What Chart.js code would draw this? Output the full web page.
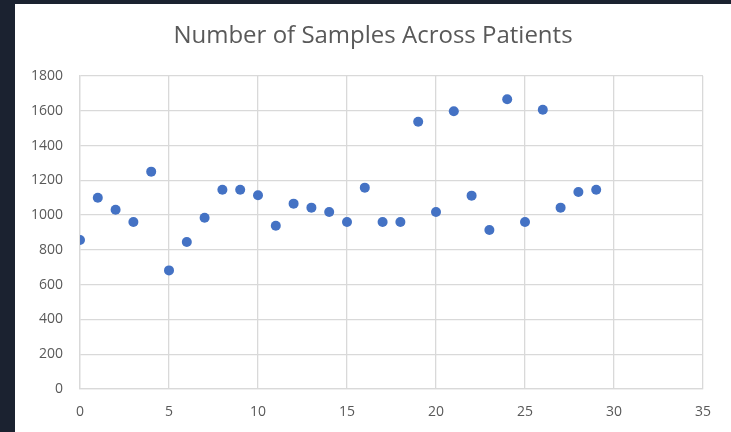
<!DOCTYPE html>
<html lang="en">
<head>
  <meta charset="UTF-8" />
  <title>Number of Samples Across Patients</title>
  <script src="https://cdn.jsdelivr.net/npm/chart.js"></script>
  <style>
    html, body { margin: 0; padding: 0; }
    body { width: 731px; height: 432px; background: #1b2230; overflow: hidden; position: relative; }
    #panel { position: absolute; left: 15px; top: 4px; width: 716px; height: 428px; background: #fff; }
    canvas { display: block; }
  </style>
</head>
<body>
  <div id="panel">
    <canvas id="samplesChart" width="716" height="428"></canvas>
  </div>

  <script>
    // patient index and number of samples
    const patientIds = [0, 1, 2, 3, 4, 5, 6, 7, 8, 9, 10, 11, 12, 13, 14,
                        15, 16, 17, 18, 19, 20, 21, 22, 23, 24, 25, 26, 27, 28, 29];
    const sampleCounts = [857, 1100, 1031, 960, 1250, 682, 845, 985, 1146, 1146,
                          1114, 939, 1066, 1043, 1018, 960, 1158, 960, 960, 1537,
                          1018, 1597, 1112, 914, 1666, 960, 1606, 1043, 1133, 1146];
    const xTicks = [0, 5, 10, 15, 20, 25, 30, 35];
    const yTicks = [0, 200, 400, 600, 800, 1000, 1200, 1400, 1600, 1800];

    const textGrey = '#595959';
    const gridGrey = '#d9d9d9';

    const ctx = document.getElementById('samplesChart').getContext('2d');
    new Chart(ctx, {
      type: 'scatter',
      data: {
        datasets: [{
          label: 'Samples',
          data: patientIds.map((x, i) => ({ x: x, y: sampleCounts[i] })),
          backgroundColor: '#4472c4',
          borderColor: '#4472c4',
          borderWidth: 0,
          pointRadius: 5,
          pointHoverRadius: 5
        }]
      },
      options: {
        responsive: false,
        animation: false,
        layout: { padding: { left: 0, right: 0, top: 0, bottom: 10 } },
        plugins: {
          legend: { display: false },
          tooltip: { enabled: false },
          title: {
            display: true,
            text: 'Number of Samples Across Patients',
            color: textGrey,
            font: { family: 'Open Sans', size: 24, weight: 'normal', lineHeight: 1.2 },
            padding: { top: 18, bottom: 25.2 }
          }
        },
        scales: {
          x: {
            type: 'linear',
            min: xTicks[0],
            max: xTicks[xTicks.length - 1],
            afterBuildTicks: (axis) => { axis.ticks = xTicks.map(v => ({ value: v })); },
            afterFit: (axis) => { axis.height = 33; },
            grid: { color: gridGrey, lineWidth: 1.3, drawTicks: false },
            border: { color: gridGrey, width: 1.3 },
            ticks: {
              color: textGrey,
              font: { family: 'Open Sans', size: 14 },
              padding: 15,
              maxRotation: 0,
              callback: (v) => String(v)
            }
          },
          y: {
            min: yTicks[0],
            max: yTicks[yTicks.length - 1],
            afterBuildTicks: (axis) => { axis.ticks = yTicks.map(v => ({ value: v })); },
            afterFit: (axis) => { axis.width = 65; },
            grid: { color: gridGrey, lineWidth: 1.3, drawTicks: false },
            border: { color: gridGrey, width: 1.3 },
            ticks: {
              color: textGrey,
              font: { family: 'Open Sans', size: 14 },
              padding: 17,
              callback: (v) => String(v)
            }
          },
          // empty spacer on the right so the title stays centred on the panel
          spacer: {
            type: 'linear',
            position: 'right',
            afterFit: (axis) => { axis.width = 28; },
            grid: { display: false },
            border: { display: false },
            ticks: { display: false }
          }
        }
      }
    });
  </script>
</body>
</html>
